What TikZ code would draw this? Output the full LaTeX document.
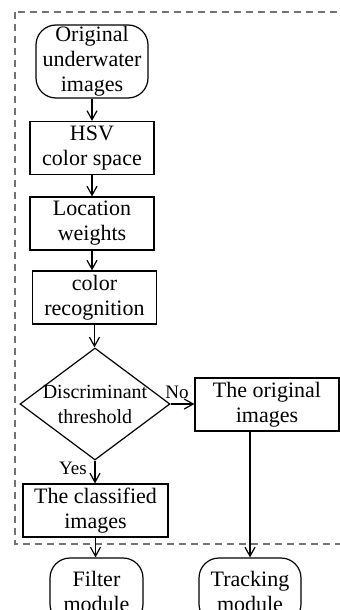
\documentclass[tikz,border=0pt]{standalone}
\usepackage{fontspec}
\setmainfont{Liberation Serif}
\usetikzlibrary{shapes, positioning, arrows.meta, calc}

\begin{document}
\begin{tikzpicture}[x=0.5pt, y=-0.5pt, line width=0.6pt,
    font=\fontsize{11}{12.5}\selectfont,
    terminal/.style={draw, rectangle, rounded corners=10pt, align=center, inner sep=0pt},
    process/.style={draw, rectangle, align=center, inner sep=0pt, minimum height=26.5pt},
    decision/.style={draw, diamond, inner sep=0pt, minimum width=75pt, minimum height=56pt},
    flow/.style={-{Straight Barb[length=4.5pt,width=5pt]}},
    answer/.style={font=\fontsize{9.5}{10}\selectfont, inner sep=0pt}]
    \useasboundingbox (0,0) rectangle (340,610);

    % Dashed frame around the recognition stage
    \draw[black!55, dash pattern=on 3.5pt off 2.5pt] (15,12) rectangle (352,544);

    % Steps of the flow
    \node[terminal, minimum width=56pt, minimum height=36.5pt] (orig) at (92,61.5) {Original\\underwater\\images};
    \node[process, minimum width=62pt] (hsv) at (92,148) {HSV\\color space};
    \node[process, minimum width=62pt] (loc) at (92,223.5) {Location\\weights};
    \node[process, minimum width=62pt] (rec) at (94.5,297.5) {color\\recognition};
    \node[decision] (disc) at (95,404) {};
    \node[align=center, font=\fontsize{10}{12.5}\selectfont] (disctext) at (disc) {Discriminant\\threshold};
    \node[process, minimum width=72pt] (raw) at (267,404.5) {The original\\images};
    \node[process, minimum width=72.5pt] (cls) at (95.5,510.5) {The classified\\images};

    % Modules outside the frame
    \node[terminal, minimum width=46.5pt, minimum height=33pt] (filt) at (96.5,591) {Filter\\module};
    \node[terminal, minimum width=51pt, minimum height=33pt] (track) at (250,591) {Tracking\\module};

    % Connectors
    \draw[flow] (orig) -- (orig |- hsv.north);
    \draw[flow] (hsv) -- (hsv |- loc.north);
    \draw[flow] (loc) -- (loc |- rec.north);
    \draw[flow] (rec) -- (rec |- disc.north);
    \draw[flow] (disc.south) -- (disc.south |- cls.north);
    \draw[flow] (cls) -- (cls |- filt.north);
    \draw[flow] (disc.east) -- (disc.east -| raw.west);
    \draw[flow] (track |- raw.south) -- (track.north);

    % Branch labels
    \node[answer] (no) at (177,392) {No};
    \node[answer] (yes) at (73,468) {Yes};
\end{tikzpicture}
\end{document}
